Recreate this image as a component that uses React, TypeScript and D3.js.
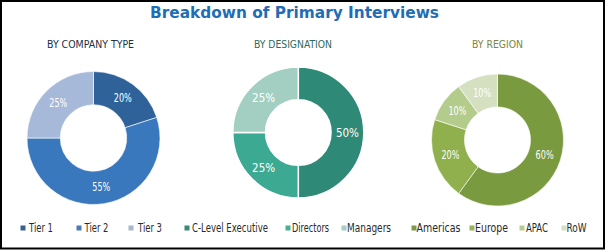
import React, { useEffect, useRef } from "react";
import * as d3 from "d3";

const chartTitle = "Breakdown of Primary Interviews";

const companyTypes = ["Tier 1", "Tier 2", "Tier 3"];
const companyShares = [20, 55, 25];

const designations = ["C-Level Executive", "Directors", "Managers"];
const designationShares = [50, 25, 25];

const regions = ["Americas", "Europe", "APAC", "RoW"];
const regionShares = [60, 20, 10, 10];

const panelTitles = ["BY COMPANY TYPE", "BY DESIGNATION", "BY REGION"];

const W = 606;
const H = 252;

const NARROW = "'DejaVu Sans Condensed', 'Liberation Sans Narrow', 'DejaVu Sans', sans-serif";

// legend layout per item: [markerX, textX, textWidth]
const panels = [
  {
    title: panelTitles[0],
    labels: companyTypes,
    values: companyShares,
    colors: ["#2f6299", "#3a78bd", "#a6b9d9"],
    legendColors: ["#3b5f8c", "#4a7bb1", "#a9b8d0"],
    titleColor: "#22303f",
    cx: 93.5, cy: 138, r: 66.5, sep: 0.6,
    titleX: 47, titleW: 87,
    labelSize: 11.5, labelW: 18,
    legend: [[20.5, 29, 24], [76.5, 84.5, 24], [128.5, 138, 24]],
  },
  {
    title: panelTitles[1],
    labels: designations,
    values: designationShares,
    colors: ["#2e8a76", "#3caa92", "#a3cfc3"],
    legendColors: ["#3a8a78", "#4aad96", "#a6cdc2"],
    titleColor: "#2d6a5d",
    cx: 298.3, cy: 132.5, r: 65.5, sep: 1.5,
    titleX: 254, titleW: 78,
    labelSize: 13, labelW: 23,
    legend: [[184.5, 192, 76], [285.5, 292, 37], [341.5, 347, 44]],
  },
  {
    title: panelTitles[2],
    labels: regions,
    values: regionShares,
    colors: ["#7a9a3f", "#8fb04c", "#b4cc8b", "#d4e0c0"],
    legendColors: ["#7f9848", "#96b358", "#b7cc92", "#d6dfc6"],
    titleColor: "#7b8445",
    cx: 497.5, cy: 140, r: 66, sep: 0.6,
    titleX: 472, titleW: 51,
    labelSize: 11.5, labelW: 18,
    legend: [[411.5, 416.5, 44], [469.5, 475, 33], [519.5, 526, 22], [561.5, 566.5, 20]],
  },
];

export default function App() {
  const ref = useRef<SVGSVGElement>(null);

  useEffect(() => {
    const svg = d3.select(ref.current);
    svg.selectAll("*").remove();

    svg.append("rect")
      .attr("x", 0).attr("y", 0).attr("width", W).attr("height", H)
      .attr("fill", "#ffffff");

    svg.append("text")
      .attr("x", 150).attr("y", 17.5)
      .attr("font-family", "'DejaVu Sans', Verdana, sans-serif")
      .attr("font-weight", "bold")
      .attr("font-size", 15)
      .attr("fill", "#1f6db4")
      .attr("textLength", 289)
      .attr("lengthAdjust", "spacingAndGlyphs")
      .text(chartTitle);

    const pie = d3.pie<number>().sort(null).value((d) => d);

    panels.forEach((p) => {
      svg.append("text")
        .attr("x", p.titleX).attr("y", 48.3)
        .attr("font-family", NARROW)
        .attr("font-stretch", "condensed")
        .attr("font-size", 11)
        .attr("fill", p.titleColor)
        .attr("textLength", p.titleW)
        .attr("lengthAdjust", "spacingAndGlyphs")
        .text(p.title);

      const arcs = pie(p.values);
      const arc = d3.arc<d3.PieArcDatum<number>>()
        .innerRadius(p.r * 0.5)
        .outerRadius(p.r);
      const g = svg.append("g").attr("transform", `translate(${p.cx},${p.cy})`);
      g.selectAll("path")
        .data(arcs)
        .join("path")
        .attr("d", arc)
        .attr("fill", (_d, i) => p.colors[i])
        .attr("stroke", "#ffffff")
        .attr("stroke-width", p.sep);
      g.selectAll("text")
        .data(arcs)
        .join("text")
        .attr("transform", (d) => {
          const [x, y] = arc.centroid(d);
          return `translate(${x - p.labelW / 2},${y})`;
        })
        .attr("dy", "0.36em")
        .attr("font-family", NARROW)
        .attr("font-stretch", "condensed")
        .attr("font-size", p.labelSize)
        .attr("fill", "#ffffff")
        .attr("textLength", p.labelW)
        .attr("lengthAdjust", "spacingAndGlyphs")
        .text((d) => `${d.data}%`);

      p.labels.forEach((lab, i) => {
        const [mx, tx, tw] = p.legend[i];
        svg.append("rect")
          .attr("x", mx).attr("y", 225.5)
          .attr("width", 5).attr("height", 5)
          .attr("fill", p.legendColors[i]);
        svg.append("text")
          .attr("x", tx).attr("y", 232)
          .attr("font-family", NARROW)
          .attr("font-stretch", "condensed")
          .attr("font-size", 11.5)
          .attr("fill", "#2a2a2a")
          .attr("textLength", tw)
          .attr("lengthAdjust", "spacingAndGlyphs")
          .text(lab);
      });
    });

    svg.append("rect")
      .attr("x", 1).attr("y", 1).attr("width", 603).attr("height", 247.5)
      .attr("fill", "none")
      .attr("stroke", "#000000")
      .attr("stroke-width", 2);
  }, []);

  return (
    <svg
      ref={ref}
      width={W}
      height={H}
      style={{ position: "absolute", left: 0, top: 0, display: "block" }}
    />
  );
}
